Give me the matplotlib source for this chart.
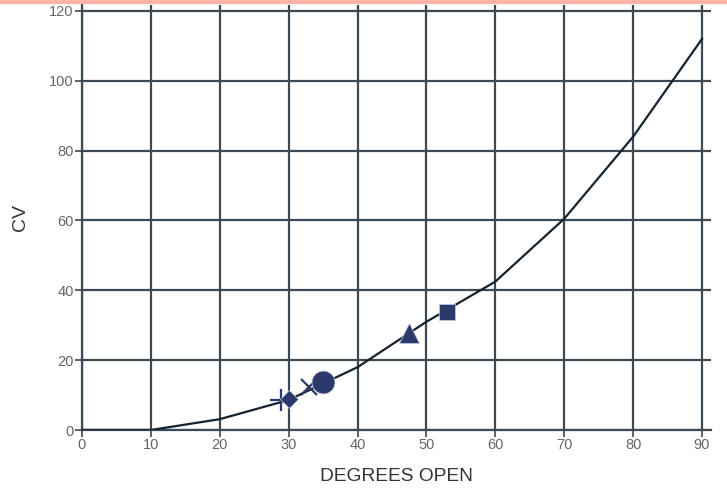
import matplotlib
matplotlib.use('Agg')
import matplotlib.pyplot as plt
import numpy as np

plt.rcParams['font.family'] = ['Liberation Sans', 'DejaVu Sans']

# valve curve
degrees = [0, 10, 20, 30, 40, 50, 60, 70, 80, 90]
cv = [0, 0, 3.1, 8.6, 18, 31, 42.5, 60.5, 84, 112]

# operating points
pts = [
    ('+', 28.9, 8.6, 16),
    ('D', 30.0, 8.9, 9),
    ('x', 33.0, 12.3, 12),
    ('o', 35.0, 13.8, 16.5),
    ('^', 47.5, 27.8, 14),
    ('s', 53.0, 33.8, 12),
]

grid_c = '#3c4a55'
mark_c = '#2b3a6b'

fig = plt.figure(figsize=(7.27, 4.93), dpi=100)
fig.patches.append(plt.Rectangle((0, 1 - 3 / 493), 1, 3 / 493, transform=fig.transFigure,
                                 color='#ffb4a8', zorder=0))
ax = fig.add_axes([82 / 727, 63 / 493, 629 / 727, 425 / 493])

ax.plot(degrees, cv, color='#14232f', lw=1.6, zorder=3)
for m, x, y, s in pts:
    if m in ('+', 'x'):
        ax.plot(x, y, marker=m, ms=s, color=mark_c, mew=1.6, ls='none', zorder=4)
    else:
        ax.plot(x, y, marker=m, ms=s, color=mark_c, mec='#c8cce0', mew=0.5, ls='none', zorder=4)

ax.set_xlim(0, 91.3)
ax.set_ylim(0, 121.7)
ax.set_xticks(np.arange(0, 91, 10))
ax.set_yticks(np.arange(0, 121, 20))
ax.grid(True, color=grid_c, lw=1.6)
ax.set_axisbelow(True)
for sp in ['top', 'right']:
    ax.spines[sp].set_visible(False)
for sp in ['left', 'bottom']:
    ax.spines[sp].set_color(grid_c)
    ax.spines[sp].set_linewidth(1.6)
ax.tick_params(axis='both', colors=grid_c, labelcolor='#666666', labelsize=10.5, length=5, width=1.2)
ax.tick_params(axis='x', pad=1)
ax.tick_params(axis='y', pad=1)

ax.set_xlabel('DEGREES OPEN', fontsize=13.8, color='#333333')
ax.set_ylabel('CV', fontsize=14, color='#333333')
ax.xaxis.set_label_coords(0.5, -0.09)
ax.yaxis.set_label_coords(-0.084, 0.5)

fig.savefig('out.png', dpi=100)
